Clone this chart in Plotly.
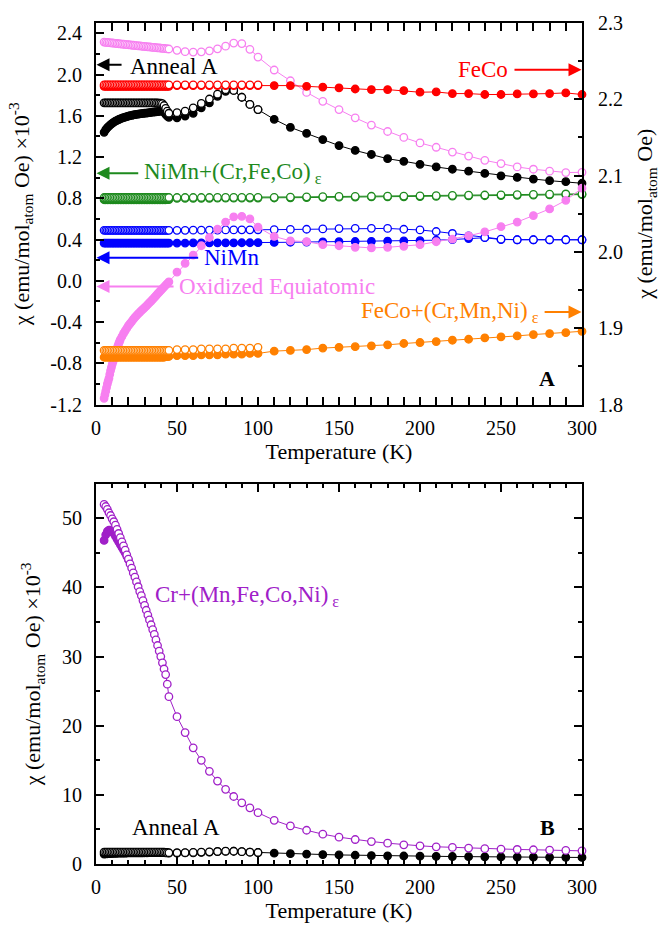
import plotly.graph_objects as go

# ---------------- temperature grids ----------------
T_lo = list(range(5, 46))            # dense low-T points (K)
T_mid = list(range(50, 101, 5))      # 50..100 K
T_hi = list(range(110, 301, 10))     # 110..300 K

# ---------------- Panel A : Anneal A (left axis) ----------------
annealA_filled_lo = [1.44, 1.465, 1.485, 1.50, 1.515, 1.527, 1.538, 1.548, 1.556, 1.564,
                     1.571, 1.577, 1.583, 1.588, 1.593, 1.597, 1.601, 1.605, 1.608, 1.611,
                     1.614, 1.617, 1.619, 1.621, 1.623, 1.625, 1.627, 1.629, 1.631, 1.633,
                     1.635, 1.637, 1.639, 1.641, 1.643, 1.645, 1.645, 1.635, 1.615, 1.598, 1.585]
annealA_open_lo = [1.726, 1.726, 1.725, 1.725, 1.725, 1.725, 1.725, 1.725, 1.725, 1.725,
                   1.725, 1.725, 1.725, 1.725, 1.725, 1.725, 1.725, 1.725, 1.725, 1.725,
                   1.725, 1.725, 1.725, 1.725, 1.725, 1.725, 1.725, 1.725, 1.725, 1.725,
                   1.725, 1.725, 1.724, 1.724, 1.723, 1.722, 1.718, 1.70, 1.672, 1.645, 1.625]
annealA_open_mid = [1.63, 1.645, 1.677, 1.72, 1.763, 1.81, 1.853, 1.846, 1.78, 1.71, 1.66]
annealA_filled_mid = [1.58, 1.598, 1.624, 1.677, 1.725, 1.789, 1.837, 1.846, 1.78, 1.71, 1.66]
annealA_filled_hi = [1.566, 1.488, 1.43, 1.37, 1.311, 1.264, 1.225, 1.184, 1.159, 1.13,
                     1.104, 1.082, 1.063, 1.041, 1.018, 1.003, 0.987, 0.971, 0.961, 0.946]

# ---------------- FeCo (right axis) ----------------
feco_filled_lo = [2.217, 2.217, 2.217, 2.217, 2.217, 2.217, 2.217, 2.217, 2.217, 2.217,
                  2.217, 2.217, 2.217, 2.217, 2.217, 2.217, 2.217, 2.217, 2.217, 2.217,
                  2.217, 2.217, 2.217, 2.217, 2.217, 2.217, 2.217, 2.217, 2.217, 2.217,
                  2.217, 2.217, 2.217, 2.217, 2.217, 2.217, 2.217, 2.217, 2.217, 2.217, 2.217]
feco_open_lo = [2.219, 2.219, 2.219, 2.219, 2.219, 2.219, 2.219, 2.219, 2.219, 2.219,
                2.219, 2.219, 2.219, 2.219, 2.219, 2.219, 2.219, 2.219, 2.219, 2.219,
                2.219, 2.219, 2.219, 2.219, 2.219, 2.219, 2.219, 2.219, 2.219, 2.219,
                2.219, 2.219, 2.219, 2.219, 2.219, 2.219, 2.219, 2.219, 2.219, 2.219, 2.219]
feco_open_mid = [2.219, 2.219, 2.219, 2.219, 2.219, 2.219, 2.219, 2.219, 2.219, 2.219, 2.219]
feco_filled_mid = [2.218, 2.218, 2.218, 2.218, 2.218, 2.218, 2.218, 2.218, 2.218, 2.218, 2.218]
feco_filled_hi = [2.218, 2.218, 2.217, 2.216, 2.215, 2.2135, 2.2127, 2.2127, 2.2114, 2.2093,
                  2.2097, 2.2075, 2.2075, 2.2063, 2.2063, 2.2071, 2.2071, 2.2075, 2.2084, 2.2063]

# ---------------- NiMn+(Cr,Fe,Co)e (left axis) ----------------
nimnx_filled_lo = [0.786, 0.786, 0.786, 0.786, 0.786, 0.786, 0.786, 0.786, 0.786, 0.786,
                   0.786, 0.786, 0.786, 0.786, 0.786, 0.786, 0.786, 0.786, 0.786, 0.786,
                   0.786, 0.786, 0.786, 0.786, 0.786, 0.786, 0.786, 0.786, 0.786, 0.786,
                   0.786, 0.786, 0.786, 0.786, 0.786, 0.786, 0.786, 0.786, 0.786, 0.787, 0.788]
nimnx_open_lo = [0.808, 0.808, 0.808, 0.808, 0.808, 0.808, 0.808, 0.808, 0.808, 0.808,
                 0.808, 0.808, 0.808, 0.808, 0.808, 0.808, 0.808, 0.808, 0.808, 0.808,
                 0.808, 0.808, 0.808, 0.808, 0.808, 0.808, 0.808, 0.808, 0.808, 0.808,
                 0.808, 0.808, 0.808, 0.808, 0.808, 0.808, 0.808, 0.808, 0.808, 0.808, 0.808]
nimnx_open_mid = [0.808, 0.808, 0.808, 0.808, 0.808, 0.809, 0.809, 0.809, 0.809, 0.81, 0.81]
nimnx_filled_mid = [0.80, 0.80, 0.80, 0.80, 0.80, 0.801, 0.801, 0.801, 0.802, 0.802, 0.802]
nimnx_open_hi = [0.81, 0.812, 0.814, 0.816, 0.818, 0.819, 0.82, 0.821, 0.822, 0.824,
                 0.826, 0.828, 0.83, 0.832, 0.834, 0.836, 0.838, 0.84, 0.842, 0.843]
nimnx_filled_hi = [0.803, 0.805, 0.807, 0.809, 0.811, 0.812, 0.813, 0.814, 0.815, 0.817,
                   0.819, 0.821, 0.823, 0.825, 0.827, 0.829, 0.831, 0.833, 0.835, 0.836]

# ---------------- NiMn (left axis) ----------------
nimn_filled_lo = [0.366, 0.366, 0.366, 0.366, 0.366, 0.366, 0.366, 0.366, 0.366, 0.366,
                  0.366, 0.366, 0.366, 0.366, 0.366, 0.366, 0.366, 0.366, 0.366, 0.366,
                  0.366, 0.366, 0.366, 0.366, 0.366, 0.366, 0.366, 0.366, 0.366, 0.366,
                  0.366, 0.366, 0.366, 0.366, 0.366, 0.366, 0.366, 0.366, 0.366, 0.366, 0.366]
nimn_open_lo = [0.49, 0.49, 0.49, 0.49, 0.49, 0.49, 0.49, 0.49, 0.49, 0.49,
                0.49, 0.49, 0.49, 0.49, 0.49, 0.49, 0.49, 0.49, 0.49, 0.49,
                0.49, 0.49, 0.49, 0.49, 0.49, 0.49, 0.49, 0.49, 0.49, 0.49,
                0.49, 0.49, 0.49, 0.49, 0.49, 0.49, 0.49, 0.49, 0.49, 0.49, 0.49]
nimn_open_mid = [0.49, 0.49, 0.491, 0.491, 0.492, 0.492, 0.493, 0.493, 0.494, 0.494, 0.495]
nimn_filled_mid = [0.366, 0.366, 0.367, 0.367, 0.367, 0.368, 0.368, 0.368, 0.369, 0.369, 0.37]
nimn_open_hi = [0.496, 0.498, 0.50, 0.503, 0.507, 0.509, 0.509, 0.508, 0.50, 0.493,
                0.478, 0.459, 0.436, 0.42, 0.404, 0.398, 0.398, 0.398, 0.398, 0.398]
nimn_filled_hi = [0.372, 0.374, 0.376, 0.378, 0.379, 0.381, 0.383, 0.385, 0.387, 0.389,
                  0.394, 0.40, 0.41, 0.418, 0.40, 0.398, 0.398, 0.398, 0.398, 0.398]

# ---------------- Oxidized Equiatomic (left axis) ----------------
oxid_open_lo = [2.315, 2.313, 2.311, 2.309, 2.308, 2.306, 2.304, 2.303, 2.301, 2.299,
                2.298, 2.296, 2.294, 2.293, 2.291, 2.289, 2.288, 2.286, 2.284, 2.283,
                2.281, 2.279, 2.278, 2.276, 2.274, 2.273, 2.271, 2.269, 2.268, 2.266,
                2.264, 2.263, 2.261, 2.259, 2.258, 2.256, 2.254, 2.253, 2.251, 2.249, 2.248]
oxid_open_mid = [2.235, 2.222, 2.218, 2.22, 2.23, 2.25, 2.275, 2.305, 2.30, 2.245, 2.17]
oxid_open_hi = [2.044, 1.94, 1.827, 1.74, 1.66, 1.58, 1.51, 1.448, 1.39, 1.337,
                1.295, 1.248, 1.21, 1.168, 1.137, 1.104, 1.082, 1.063, 1.05, 1.052]
# the filled low-T curve is measured more densely (every 0.5 K at the start)
T_oxid_lo = [5, 5.5, 6, 6.5, 7, 7.5, 8, 8.5, 9, 9.5, 10, 10.5, 11, 11.5, 12, 12.5, 13, 13.5,
             14, 14.5, 15, 16, 17, 18, 19, 20, 21, 22, 23, 24, 25, 26, 27, 28, 29, 30, 31,
             32, 33, 34, 35, 36, 37, 38, 39, 40, 41, 42, 43, 44, 45]
oxid_filled_lo = [-1.14, -1.105, -1.07, -1.035, -1.00, -0.972, -0.945, -0.907, -0.87, -0.84,
                  -0.81, -0.785, -0.76, -0.735, -0.71, -0.683, -0.655, -0.632, -0.61, -0.59,
                  -0.57, -0.54, -0.51, -0.485, -0.46, -0.435, -0.415, -0.395, -0.375, -0.355,
                  -0.338, -0.32, -0.305, -0.29, -0.275, -0.26, -0.245, -0.228, -0.212, -0.196,
                  -0.18, -0.162, -0.145, -0.127, -0.11, -0.093, -0.076, -0.06, -0.043, -0.027,
                  -0.01]
oxid_filled_mid = [0.085, 0.17, 0.25, 0.34, 0.42, 0.50, 0.57, 0.62, 0.625, 0.60, 0.52]
oxid_filled_hi = [0.43, 0.388, 0.38, 0.35, 0.34, 0.325, 0.319, 0.325, 0.334, 0.35,
                  0.379, 0.404, 0.436, 0.474, 0.525, 0.57, 0.633, 0.697, 0.78, 0.898]

# ---------------- FeCo+(Cr,Mn,Ni)e (right axis) ----------------
fecox_filled_lo = [1.862, 1.862, 1.862, 1.862, 1.862, 1.862, 1.862, 1.862, 1.862, 1.862,
                   1.862, 1.862, 1.862, 1.862, 1.862, 1.862, 1.862, 1.862, 1.862, 1.862,
                   1.862, 1.862, 1.862, 1.862, 1.862, 1.862, 1.862, 1.862, 1.862, 1.862,
                   1.862, 1.862, 1.862, 1.862, 1.862, 1.862, 1.862, 1.862, 1.863, 1.863, 1.863]
fecox_open_lo = [1.871, 1.871, 1.871, 1.871, 1.871, 1.871, 1.871, 1.871, 1.871, 1.871,
                 1.871, 1.871, 1.871, 1.871, 1.871, 1.871, 1.871, 1.871, 1.871, 1.871,
                 1.871, 1.871, 1.871, 1.871, 1.871, 1.871, 1.871, 1.871, 1.871, 1.871,
                 1.871, 1.871, 1.871, 1.871, 1.871, 1.871, 1.871, 1.871, 1.871, 1.871, 1.871]
fecox_open_mid = [1.872, 1.872, 1.872, 1.873, 1.873, 1.873, 1.873, 1.874, 1.874, 1.874, 1.875]
fecox_filled_mid = [1.864, 1.864, 1.864, 1.865, 1.865, 1.865, 1.866, 1.866, 1.866, 1.867, 1.867]
fecox_filled_hi = [1.870, 1.871, 1.872, 1.874, 1.875, 1.8758, 1.877, 1.8783, 1.880, 1.8813,
                   1.8826, 1.8843, 1.8856, 1.8874, 1.8887, 1.890, 1.8917, 1.893, 1.8942, 1.896]

# ---------------- Panel B : Cr+(Mn,Fe,Co,Ni)e ----------------
T_cr_filled = list(range(5, 21))
cr_filled_lo = [46.8, 47.6, 48.1, 48.3, 48.3, 48.1, 47.8, 47.4, 47.0, 46.6,
                46.2, 45.8, 45.4, 45.0, 44.5, 44.0]
cr_open_lo = [52.0, 51.7, 51.3, 50.8, 50.4, 49.9, 49.5, 49.0, 48.4, 47.8,
              47.2, 46.6, 46.0, 45.4, 44.7, 44.1, 43.4, 42.8, 42.1, 41.5,
              40.8, 40.1, 39.4, 38.8, 38.1, 37.4, 36.7, 36.0, 35.3, 34.6,
              33.9, 33.2, 32.4, 31.6, 30.8, 30.0, 29.1, 28.2, 27.4, 26.0, 24.2]
cr_open_mid = [21.3, 19.0, 16.8, 15.0, 13.4, 12.0, 10.8, 9.76, 8.85, 8.13, 7.42]
cr_open_hi = [6.32, 5.5, 4.88, 4.31, 3.88, 3.54, 3.25, 3.01, 2.78, 2.63,
              2.49, 2.39, 2.30, 2.22, 2.15, 2.10, 2.06, 2.01, 1.96, 1.90]

# axis ticks
yA_tickvals = [-1.2, -0.8, -0.4, 0.0, 0.4, 0.8, 1.2, 1.6, 2.0, 2.4]
yA_ticktext = ["-1.2", "-0.8", "-0.4", "0.0", "0.4", "0.8", "1.2", "1.6", "2.0", "2.4"]

# colours
C_BLACK = "#000000"
C_RED = "#ff0000"
C_GREEN = "#1e8a1e"
C_BLUE = "#0000ff"
C_PINK = "#f77ff0"
C_ORANGE = "#ff8000"
C_PURPLE = "#a020c8"

FONT = "Times New Roman, Liberation Serif, Times, serif"

fig = go.Figure()


def add(x, y, color, filled, xaxis="x", yaxis="y"):
    fig.add_trace(go.Scatter(
        x=x, y=y, mode="lines+markers", xaxis=xaxis, yaxis=yaxis,
        line=dict(color=color, width=1),
        marker=dict(symbol="circle", size=7.5,
                    color=color if filled else "white",
                    line=dict(color=color, width=1.3)),
        cliponaxis=False, showlegend=False, hoverinfo="skip"))


# ---- panel A traces (left axis) ----
add(T_lo + T_mid + T_hi, nimn_filled_lo + nimn_filled_mid + nimn_filled_hi, C_BLUE, True)
add(T_lo + T_mid + T_hi, nimn_open_lo + nimn_open_mid + nimn_open_hi, C_BLUE, False)
add(T_lo + T_mid + T_hi, nimnx_filled_lo + nimnx_filled_mid + nimnx_filled_hi, C_GREEN, True)
add(T_lo + T_mid + T_hi, nimnx_open_lo + nimnx_open_mid + nimnx_open_hi, C_GREEN, False)
add(T_lo + T_mid + T_hi, annealA_filled_lo + annealA_filled_mid + annealA_filled_hi, C_BLACK, True)
add(T_lo + T_mid, annealA_open_lo + annealA_open_mid, C_BLACK, False)
add(T_lo + T_mid + T_hi, oxid_open_lo + oxid_open_mid + oxid_open_hi, C_PINK, False)
add(T_oxid_lo + T_mid + T_hi, oxid_filled_lo + oxid_filled_mid + oxid_filled_hi, C_PINK, True)

# ---- panel A traces (right axis) ----
add(T_lo + T_mid + T_hi, fecox_filled_lo + fecox_filled_mid + fecox_filled_hi, C_ORANGE, True, "x", "y2")
add(T_lo + T_mid, fecox_open_lo + fecox_open_mid, C_ORANGE, False, "x", "y2")
add(T_lo + T_mid + T_hi, feco_filled_lo + feco_filled_mid + feco_filled_hi, C_RED, True, "x", "y2")
add(T_lo + T_mid, feco_open_lo + feco_open_mid, C_RED, False, "x", "y2")

# ---- panel B traces ----
add(T_lo + T_mid + T_hi, annealA_filled_lo + annealA_filled_mid + annealA_filled_hi, C_BLACK, True, "x2", "y3")
add(T_lo + T_mid, annealA_open_lo + annealA_open_mid, C_BLACK, False, "x2", "y3")
add(T_cr_filled, cr_filled_lo, C_PURPLE, True, "x2", "y3")
add(T_lo + T_mid + T_hi, cr_open_lo + cr_open_mid + cr_open_hi, C_PURPLE, False, "x2", "y3")

tickfont = dict(family=FONT, size=20, color="black")
titlefont = dict(family=FONT, size=22, color="black")

common_x = dict(range=[0, 300], tickmode="linear", tick0=0, dtick=50,
                ticks="inside", ticklen=8, tickwidth=1.5, tickcolor="black",
                minor=dict(dtick=10, ticks="inside", ticklen=4, tickwidth=1.5, tickcolor="black"),
                showline=True, linewidth=2, linecolor="black", mirror="allticks",
                showgrid=False, zeroline=False, tickfont=tickfont, ticklabelstandoff=4,
                title=dict(text="Temperature (K)", font=titlefont, standoff=6))

fig.update_layout(
    width=668, height=931,
    margin=dict(l=96, r=86, t=16, b=62),
    paper_bgcolor="white", plot_bgcolor="white",
    font=dict(family=FONT, color="black"),
    xaxis=dict(anchor="y", domain=[0, 1], **common_x),
    xaxis2=dict(anchor="y3", domain=[0, 1], **common_x),
    yaxis=dict(domain=[0.5463, 1], anchor="x", range=[-1.2, 2.5],
               tickmode="array", tickvals=yA_tickvals, ticktext=yA_ticktext,
               ticks="inside", ticklen=8, tickwidth=1.5, tickcolor="black",
               minor=dict(tick0=-1.2, dtick=0.2, ticks="inside", ticklen=4, tickwidth=1.5,
                          tickcolor="black"),
               showline=True, linewidth=2, linecolor="black", mirror=False,
               showgrid=False, zeroline=False, tickfont=tickfont, ticklabelstandoff=8,
               title=dict(text="χ (emu/mol<sub>atom</sub> Oe) ×10<sup>-3</sup>",
                          font=titlefont, standoff=15)),
    yaxis2=dict(overlaying="y", side="right", anchor="x", range=[1.8, 2.3],
                tickmode="linear", tick0=1.8, dtick=0.1, tickformat=".1f",
                ticks="inside", ticklen=8, tickwidth=1.5, tickcolor="black",
                minor=dict(dtick=0.05, ticks="inside", ticklen=4, tickwidth=1.5,
                           tickcolor="black"),
                showline=True, linewidth=2, linecolor="black",
                showgrid=False, zeroline=False, tickfont=tickfont, ticklabelstandoff=10,
                title=dict(text="χ (emu/mol<sub>atom</sub> Oe)", font=titlefont, standoff=15)),
    yaxis3=dict(domain=[0, 0.4522], anchor="x2", range=[0, 55],
                tickmode="linear", tick0=0, dtick=10,
                ticks="inside", ticklen=8, tickwidth=1.5, tickcolor="black",
                minor=dict(dtick=5, ticks="inside", ticklen=4, tickwidth=1.5, tickcolor="black"),
                showline=True, linewidth=2, linecolor="black", mirror="allticks",
                showgrid=False, zeroline=False, tickfont=tickfont, ticklabelstandoff=8,
                title=dict(text="χ (emu/mol<sub>atom</sub> Oe) ×10<sup>-3</sup>",
                           font=titlefont, standoff=15)),
)


def arrow(x_head, x_tail, y, color, xref="x", yref="y"):
    fig.add_annotation(x=x_head, y=y, ax=x_tail, ay=y, xref=xref, yref=yref,
                       axref=xref, ayref=yref, text="", showarrow=True,
                       arrowhead=2, arrowsize=1.3, arrowwidth=2, arrowcolor=color,
                       standoff=0, startstandoff=0)


def label(x, y, text, color, anchor, xref="x", yref="y", bold=False, size=23):
    fig.add_annotation(x=x, y=y, xref=xref, yref=yref, text=("<b>%s</b>" % text) if bold else text,
                       showarrow=False, xanchor=anchor, yanchor="middle",
                       font=dict(family=FONT, size=size, color=color))


# panel A labels
arrow(0.3, 16.7, 2.094, C_BLACK)
label(19.5, 2.08, "Anneal A", C_BLACK, "left")
arrow(299.7, 257.4, 2.047, C_RED)
label(255.6, 2.047, "FeCo", C_RED, "right")
arrow(0.3, 27.0, 1.044, C_GREEN)
label(28.2, 1.044, "NiMn+(Cr,Fe,Co)<sub> ε</sub>", C_GREEN, "left")
arrow(0.3, 64.0, 0.223, C_BLUE)
label(65.5, 0.223, "NiMn", C_BLUE, "left")
arrow(0.3, 48.8, -0.054, C_PINK)
label(50.0, -0.054, "Oxidized Equiatomic", C_PINK, "left")
arrow(299.7, 276.0, -0.302, C_ORANGE)
label(274.5, -0.302, "FeCo+(Cr,Mn,Ni)<sub> ε</sub>", C_ORANGE, "right")
label(278.4, -0.95, "A", C_BLACK, "center", bold=True, size=22)

# panel B labels
label(35.0, 38.7, "Cr+(Mn,Fe,Co,Ni)<sub> ε</sub>", C_PURPLE, "left", "x2", "y3")
label(21.0, 5.3, "Anneal A", C_BLACK, "left", "x2", "y3")
label(278.4, 5.3, "B", C_BLACK, "center", "x2", "y3", bold=True, size=22)

fig.write_html("out.html")
